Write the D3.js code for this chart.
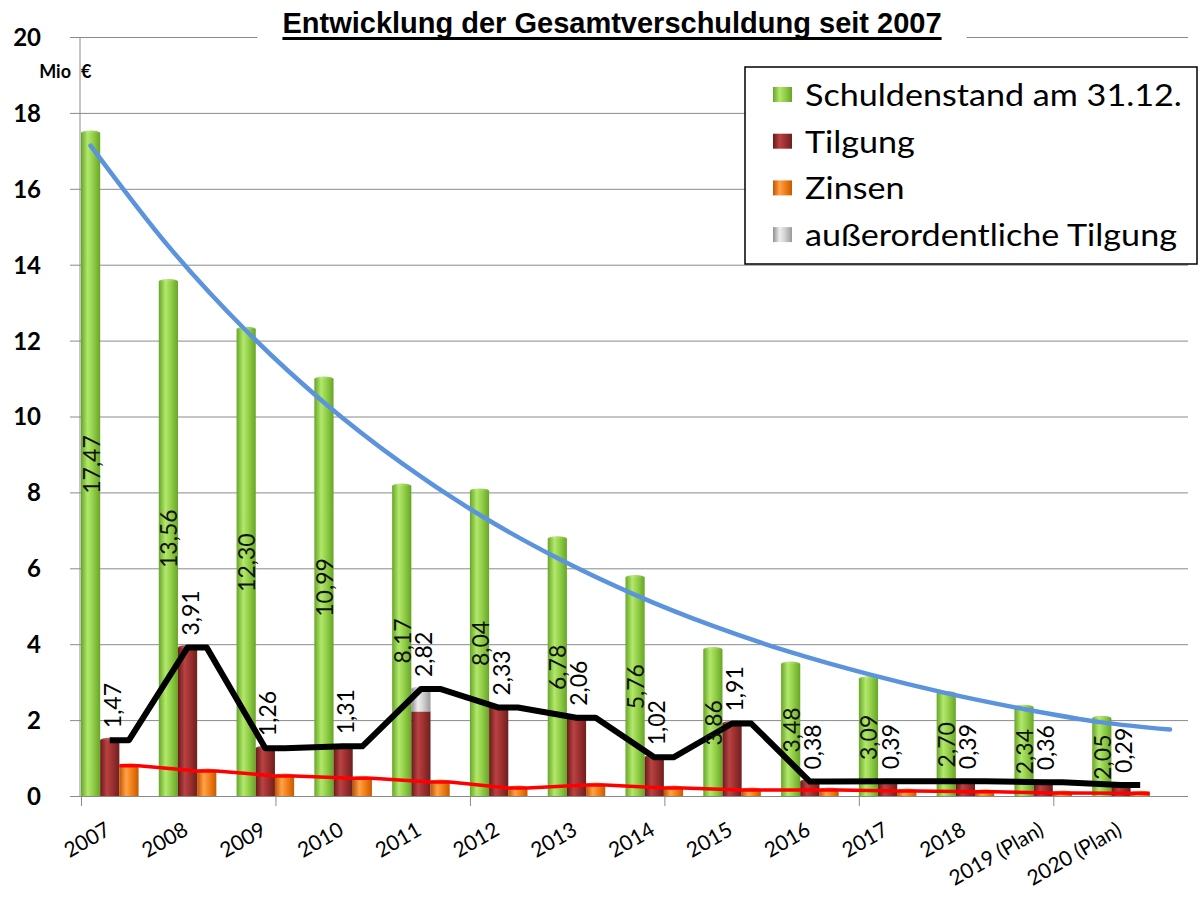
<!DOCTYPE html>
<html>
<head>
<meta charset="utf-8">
<script src="https://cdn.jsdelivr.net/npm/d3@7"></script>
<style>
  body { margin: 0; background: #fff; }
  svg { display: block; }
</style>
</head>
<body>
<svg id="chart" width="1200" height="904"></svg>
<script>
// --- data ---
const years = ["2007", "2008", "2009", "2010", "2011", "2012", "2013", "2014", "2015", "2016", "2017", "2018", "2019 (Plan)", "2020 (Plan)"];
const schuldenstand = [17.47, 13.56, 12.30, 10.99, 8.17, 8.04, 6.78, 5.76, 3.86, 3.48, 3.09, 2.70, 2.34, 2.05];
const tilgung = [1.47, 3.91, 1.26, 1.31, 2.22, 2.33, 2.06, 1.02, 1.91, 0.38, 0.39, 0.39, 0.36, 0.29];
const ausserordentlich = [0, 0, 0, 0, 0.60, 0, 0, 0, 0, 0, 0, 0, 0, 0];
const zinsen = [0.80, 0.66, 0.53, 0.47, 0.37, 0.21, 0.29, 0.21, 0.16, 0.16, 0.13, 0.11, 0.08, 0.07];
// blue trend curve, read at each Schuldenstand bar, plus its end at the plot edge
const trend = [17.14, 14.49, 12.26, 10.37, 8.77, 7.41, 6.27, 5.30, 4.48, 3.79, 3.21, 2.71, 2.29, 1.94];
const trendEnd = 1.75;
const yTicks = [0, 2, 4, 6, 8, 10, 12, 14, 16, 18, 20];
const legendItems = ["Schuldenstand am 31.12.", "Tilgung", "Zinsen", "außerordentliche Tilgung"];

const fmt = v => v.toFixed(2).replace(".", ",");
const labelFont = "Lato, 'DejaVu Sans', sans-serif";

const svg = d3.select("#chart");
const defs = svg.append("defs");

// cylinder-ish gradients
function grad(id, stops) {
    const g = defs.append("linearGradient").attr("id", id)
        .attr("x1", "0%").attr("x2", "100%").attr("y1", "0%").attr("y2", "0%");
    stops.forEach(([o, c]) => g.append("stop").attr("offset", o).attr("stop-color", c));
}
grad("gGreen", [["0%", "#66a626"], ["35%", "#b2e86c"], ["60%", "#96d24c"], ["100%", "#67a526"]]);
grad("gRed", [["0%", "#6a1a1a"], ["35%", "#b84343"], ["60%", "#a23232"], ["100%", "#6e1f1f"]]);
grad("gOrange", [["0%", "#c25400"], ["35%", "#ffa24a"], ["60%", "#f4841c"], ["100%", "#c75a00"]]);
grad("gGrey", [["0%", "#909090"], ["35%", "#eeeeee"], ["60%", "#d4d4d4"], ["100%", "#9a9a9a"]]);

const x = d3.scaleBand().domain(years).range([81, 1170])
    .paddingInner(0.26).paddingOuter(0.13).align(0);
const sub = d3.scaleBand().domain(["s", "t", "z"]).range([0, x.bandwidth()]);
const xIdx = d3.scaleLinear().domain([0, years.length]).range([81, 1170]);
const y = d3.scaleLinear().domain([0, 20]).range([796, 37]);

// gridlines
svg.append("g")
    .attr("transform", "translate(70,0)")
    .call(d3.axisRight(y).tickValues(yTicks).tickSize(1118).tickFormat(""))
    .call(g => g.select(".domain").remove())
    .call(g => g.selectAll("line").attr("stroke", "#8a8a8a").attr("stroke-width", 1));

// y axis line
svg.append("line").attr("x1", 80).attr("x2", 80).attr("y1", y(20)).attr("y2", y(0))
    .attr("stroke", "#8a8a8a");

// y labels
svg.append("g")
    .attr("transform", "translate(41,0)")
    .call(d3.axisLeft(y).tickValues(yTicks).tickSize(0).tickPadding(0))
    .call(g => g.select(".domain").remove())
    .call(g => g.selectAll("text")
        .attr("font-family", labelFont).attr("font-weight", "bold")
        .attr("font-size", 24).attr("fill", "#000").attr("dy", "0.35em"));

svg.append("text").attr("x", 71).attr("y", 78).attr("text-anchor", "end")
    .attr("font-family", labelFont).attr("font-weight", "bold").attr("font-size", 18)
    .text("Mio");
svg.append("text").attr("x", 81).attr("y", 78)
    .attr("font-family", labelFont).attr("font-weight", "bold").attr("font-size", 18)
    .text("€");

// x axis ticks (every 2.5 categories, like the original)
svg.append("g")
    .attr("transform", `translate(0,${y(0)})`)
    .call(d3.axisBottom(xIdx).tickValues([0, 2.5, 5, 7.5, 10, 12.5]).tickSize(10).tickFormat(""))
    .call(g => g.select(".domain").remove())
    .call(g => g.selectAll("line").attr("stroke", "#8a8a8a"));

// x labels
svg.append("g").selectAll("text")
    .data(years)
    .join("text")
    .attr("transform", d => `translate(${x(d) + x.bandwidth() / 2 + 2},${y(0) + 38}) rotate(-30)`)
    .attr("text-anchor", "end")
    .attr("font-family", labelFont).attr("font-size", 21).attr("fill", "#000")
    .text(d => d);

// bars
const bw = sub.bandwidth();
function bars(cls, values, key, fill, base) {
    const g = svg.append("g").attr("class", cls);
    years.forEach((yr, i) => {
        const v = values[i];
        if (v <= 0) return;
        const b = base ? base[i] : 0;
        const x0 = x(yr) + sub(key);
        g.append("rect")
            .attr("x", x0).attr("width", bw)
            .attr("y", y(b + v)).attr("height", y(b) - y(b + v))
            .attr("fill", fill);
        g.append("ellipse")
            .attr("cx", x0 + bw / 2).attr("cy", y(b + v)).attr("rx", bw / 2).attr("ry", 2.5)
            .attr("fill", fill).attr("opacity", 0.9);
    });
}
bars("s", schuldenstand, "s", "url(#gGreen)");
bars("t", tilgung, "t", "url(#gRed)");
bars("ao", ausserordentlich, "t", "url(#gGrey)", tilgung);
bars("z", zinsen, "z", "url(#gOrange)");

// lines
const totalTilgung = tilgung.map((v, i) => v + ausserordentlich[i]);

const blackPts = [];
years.forEach((yr, i) => {
    const cx = x(yr) + sub("t") + bw / 2;
    blackPts.push([cx, y(totalTilgung[i])], [cx + bw, y(totalTilgung[i])]);
});
const redPts = [];
years.forEach((yr, i) => {
    const x0 = x(yr) + sub("z");
    redPts.push([x0, y(zinsen[i])], [x0 + bw, y(zinsen[i])]);
});
const bluePts = years.map((yr, i) => [x(yr) + sub("s") + bw / 2, y(trend[i])]);
bluePts.push([xIdx(years.length), y(trendEnd)]);

const line = d3.line();
svg.append("path").attr("d", d3.line().curve(d3.curveMonotoneX)(bluePts))
    .attr("fill", "none").attr("stroke", "#5b93dc").attr("stroke-width", 4.5)
    .attr("stroke-linecap", "round");
svg.append("path").attr("d", line(redPts))
    .attr("fill", "none").attr("stroke", "#ff0000").attr("stroke-width", 3.5)
    .attr("stroke-linejoin", "round");
svg.append("path").attr("d", line(blackPts))
    .attr("fill", "none").attr("stroke", "#000").attr("stroke-width", 6)
    .attr("stroke-linejoin", "round");

// value labels
svg.append("g").selectAll("text")
    .data(schuldenstand)
    .join("text")
    .attr("transform", (d, i) => `translate(${x(years[i]) + sub("s") + bw / 2},${y(d / 2)}) rotate(-90)`)
    .attr("text-anchor", "middle").attr("dominant-baseline", "central")
    .attr("font-family", labelFont).attr("font-size", 23).attr("fill", "#111")
    .text(d => fmt(d));

svg.append("g").selectAll("text")
    .data(totalTilgung)
    .join("text")
    .attr("transform", (d, i) => `translate(${x(years[i]) + sub("t") + bw / 2 + 2},${y(d) - 12}) rotate(-90)`)
    .attr("text-anchor", "start").attr("dominant-baseline", "central")
    .attr("font-family", labelFont).attr("font-size", 23).attr("fill", "#000")
    .text(d => fmt(d));

// title
const titleBg = svg.append("rect").attr("fill", "#fff");
const title = svg.append("text")
    .attr("x", 612).attr("y", 33).attr("text-anchor", "middle")
    .attr("font-family", "'Liberation Sans', Arial, sans-serif").attr("font-weight", "bold")
    .attr("font-size", 29).attr("fill", "#000")
    .text("Entwicklung der Gesamtverschuldung seit 2007");
const tw = title.node().getComputedTextLength();
titleBg.attr("x", 612 - tw / 2 - 25).attr("y", 6).attr("width", tw + 50).attr("height", 38);
svg.append("line").attr("x1", 612 - tw / 2).attr("x2", 612 + tw / 2)
    .attr("y1", 38.5).attr("y2", 38.5).attr("stroke", "#000").attr("stroke-width", 3);

// legend
const legend = svg.append("g").attr("transform", "translate(745,67)");
legend.append("rect").attr("width", 452).attr("height", 197)
    .attr("fill", "#fff").attr("stroke", "#000").attr("stroke-width", 1.5);
const swatch = ["url(#gGreen)", "url(#gRed)", "url(#gOrange)", "url(#gGrey)"];
const legendText = legend.append("g").attr("transform", "translate(60,0)");
legendItems.forEach((t, i) => {
    const cy = 28 + i * 46.7;
    legend.append("rect").attr("x", 28).attr("y", cy - 8).attr("width", 19).attr("height", 15)
        .attr("fill", swatch[i]);
    legendText.append("text").attr("x", 0).attr("y", cy).attr("dy", "0.35em")
        .attr("font-family", labelFont).attr("font-size", 31).attr("fill", "#000")
        .text(t);
});
// the original legend type is a little wider than Lato: stretch to its width
const firstLen = legendText.select("text").node().getComputedTextLength();
legendText.attr("transform", `translate(60,0) scale(${377 / firstLen},1)`);
</script>
</body>
</html>
